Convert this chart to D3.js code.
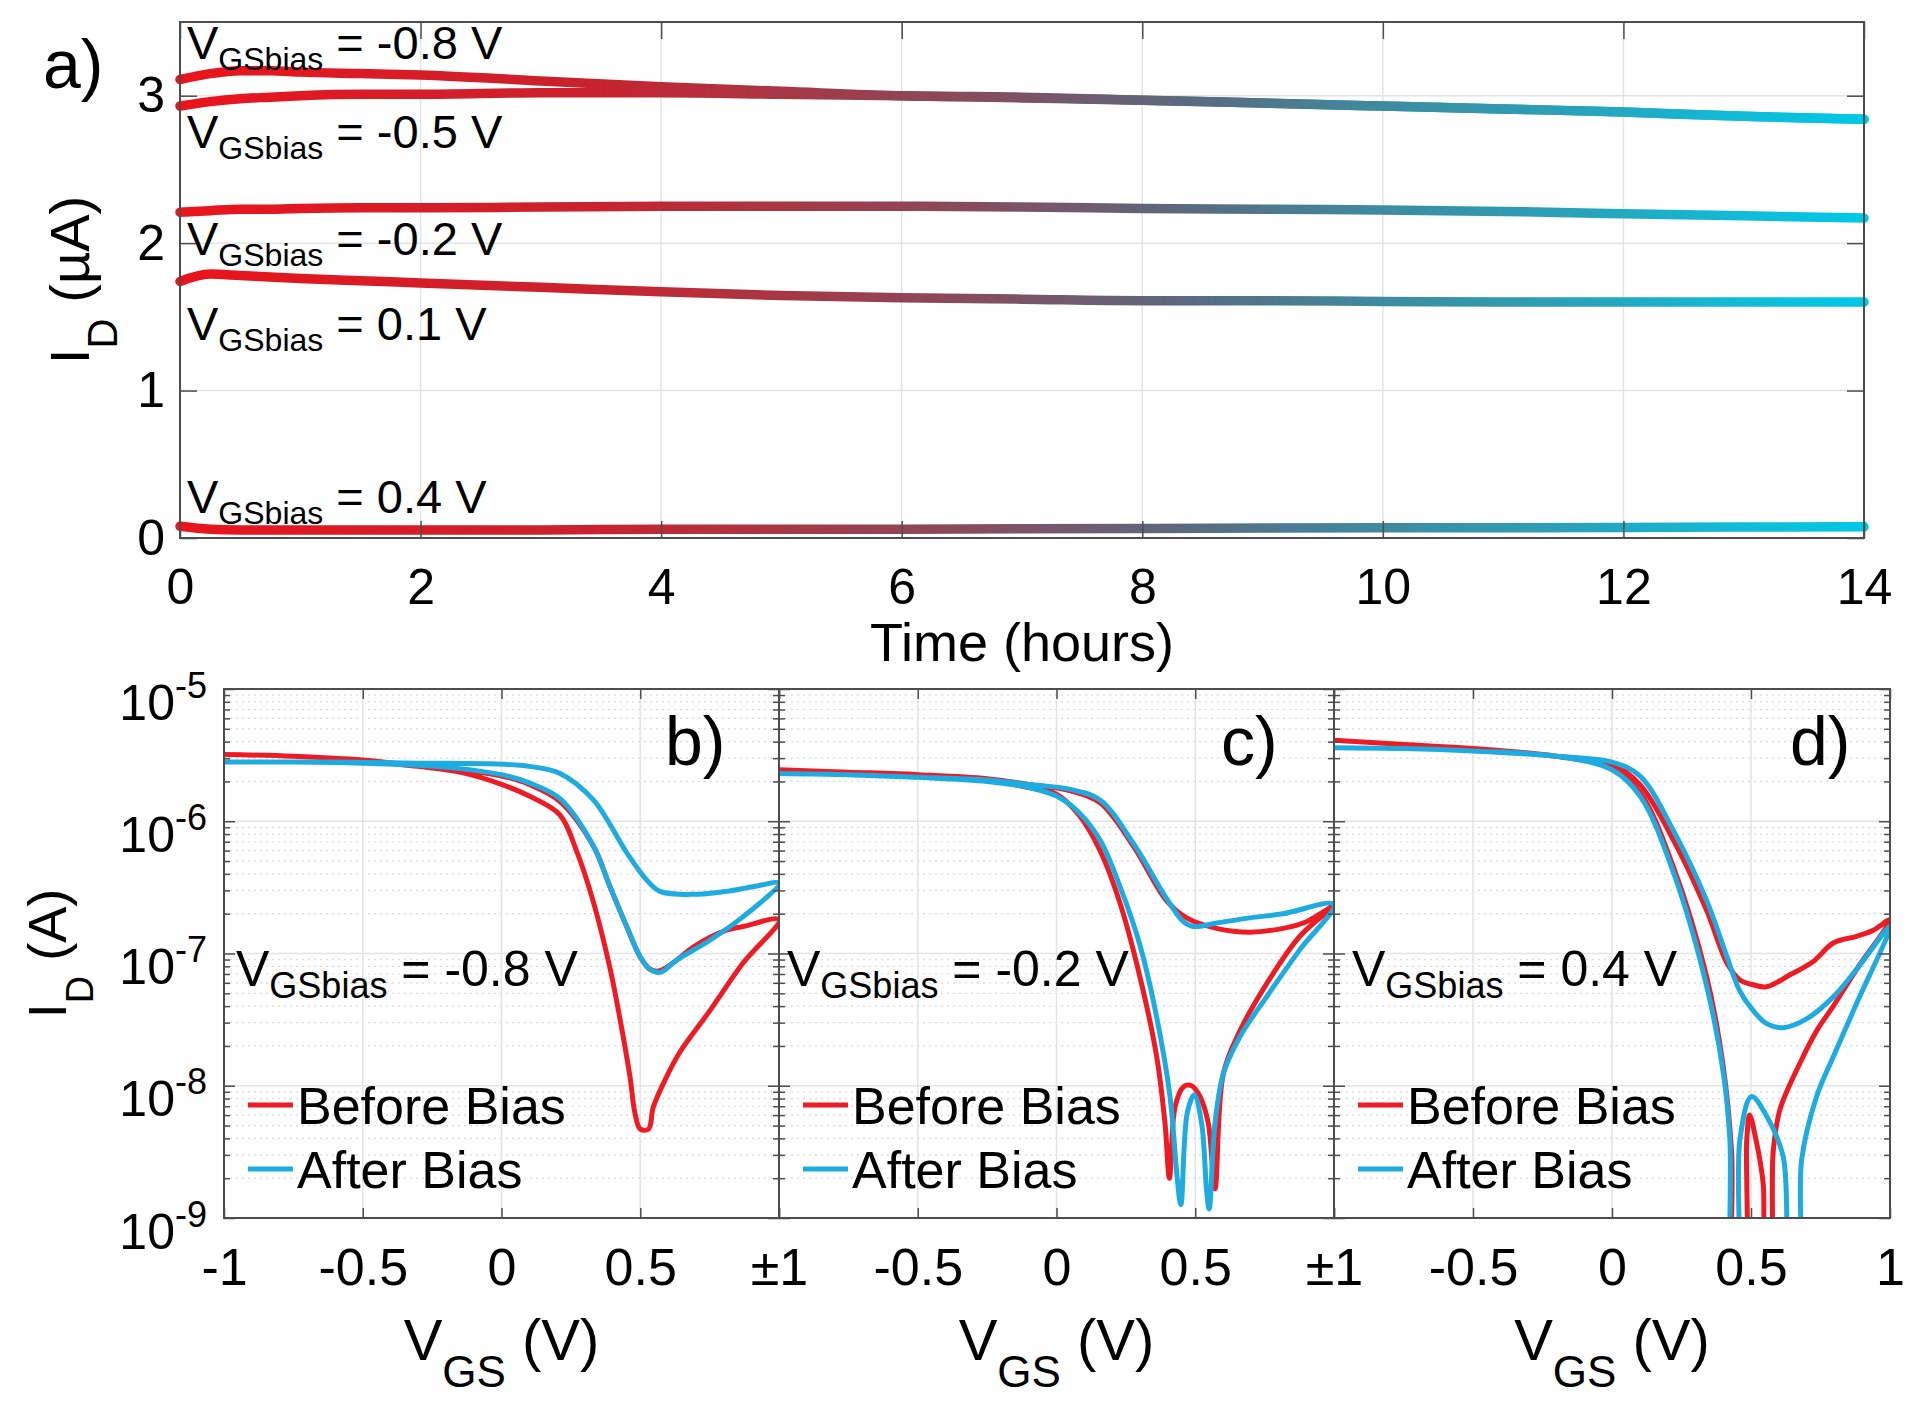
<!DOCTYPE html>
<html><head><meta charset="utf-8">
<script src="https://cdn.jsdelivr.net/npm/d3@7"></script>
<style>
body{margin:0;background:#fff;}
svg text{font-family:"Liberation Sans",Arial,Helvetica,sans-serif;fill:#000;white-space:pre;}
</style></head><body>
<svg id="fig" width="1920" height="1403" xmlns="http://www.w3.org/2000/svg"></svg>
<script>
// ---------------- DATA ----------------
// Panel a: drain current (µA) vs time (hours) for each gate bias
const timeHours = [0, 0.25, 0.5, 0.75, 1, 1.5, 2, 3, 4, 5, 6, 7, 8, 9, 10, 11, 12, 13, 14];
const idBiasM08 = [3.11, 3.15, 3.17, 3.17, 3.16, 3.15, 3.14, 3.10, 3.06, 3.03, 3.00, 2.99, 2.97, 2.95, 2.93, 2.91, 2.89, 2.86, 2.84];
const idBiasM05 = [2.93, 2.96, 2.98, 2.99, 3.00, 3.01, 3.01, 3.02, 3.02, 3.01, 3.00, 2.985, 2.97, 2.95, 2.93, 2.91, 2.89, 2.86, 2.84];
const idBiasM02 = [2.21, 2.22, 2.23, 2.23, 2.235, 2.24, 2.24, 2.245, 2.25, 2.25, 2.25, 2.245, 2.235, 2.23, 2.225, 2.215, 2.20, 2.185, 2.17];
const idBiasP01 = [1.74, 1.79, 1.78, 1.77, 1.76, 1.745, 1.73, 1.70, 1.67, 1.645, 1.63, 1.62, 1.61, 1.61, 1.605, 1.60, 1.60, 1.60, 1.60];
const idBiasP04 = [0.08, 0.06, 0.055, 0.055, 0.055, 0.055, 0.055, 0.055, 0.06, 0.06, 0.06, 0.062, 0.065, 0.068, 0.07, 0.07, 0.072, 0.074, 0.076];
const biasLabelsA = ["-0.8", "-0.5", "-0.2", "0.1", "0.4"];
const xTicksA = [0, 2, 4, 6, 8, 10, 12, 14];
const yTicksA = [0, 1, 2, 3];

// Panels b-d: transfer loops [VGS (V), ID (A)], forward sweep then return sweep
const bBefore = [[-1,3.2e-6],[-0.75,3.1e-6],[-0.5,2.9e-6],[-0.3,2.6e-6],[-0.15,2.35e-6],[0,1.9e-6],[0.1,1.55e-6],[0.21,1.12e-6],[0.27,6.0e-7],[0.33,2.5e-7],[0.39,7.9e-8],[0.427,3.2e-8],[0.463,1.17e-8],[0.481,6.2e-9],[0.5,4.7e-9],[0.53,4.7e-9],[0.547,6.9e-9],[0.595,1.17e-8],[0.643,1.8e-8],[0.751,3.7e-8],[0.871,8.5e-8],[1,1.8e-7],
  [0.871,1.6e-7],[0.811,1.5e-7],[0.691,1.12e-7],[0.631,8.9e-8],[0.571,7.4e-8],[0.535,7.6e-8],[0.499,9.5e-8],[0.451,1.6e-7],[0.391,3.2e-7],[0.331,6.5e-7],[0.211,1.41e-6],[0.1,1.9e-6],[0,2.2e-6],[-0.15,2.45e-6],[-0.3,2.6e-6],[-0.5,2.9e-6],[-0.75,3.1e-6],[-1,3.2e-6]];
const bAfter = [[-1,2.8e-6],[-0.75,2.8e-6],[-0.5,2.75e-6],[-0.3,2.65e-6],[-0.15,2.5e-6],[0,2.25e-6],[0.1,1.95e-6],[0.211,1.48e-6],[0.331,6.5e-7],[0.391,3.2e-7],[0.451,1.6e-7],[0.499,9.5e-8],[0.535,7.6e-8],[0.571,7.2e-8],[0.631,8.9e-8],[0.751,1.26e-7],[0.871,1.9e-7],[1,3.4e-7],
  [0.907,3.2e-7],[0.811,2.95e-7],[0.691,2.8e-7],[0.571,2.95e-7],[0.523,3.6e-7],[0.451,5.8e-7],[0.331,1.45e-6],[0.211,2.3e-6],[0.1,2.6e-6],[0,2.7e-6],[-0.3,2.75e-6],[-0.6,2.8e-6],[-1,2.8e-6]];
const cBefore = [[-1,2.45e-6],[-0.75,2.35e-6],[-0.5,2.25e-6],[-0.25,2.05e-6],[-0.1,1.8e-6],[0,1.6e-6],[0.08,1.12e-6],[0.157,6.0e-7],[0.229,2.4e-7],[0.301,6.6e-8],[0.361,1.66e-8],[0.391,5.2e-9],[0.407,2.0e-9],[0.427,6.9e-9],[0.457,9.8e-9],[0.487,1.0e-8],[0.517,8.3e-9],[0.547,5.2e-9],[0.571,1.66e-9],[0.601,1.23e-8],[0.661,2.6e-8],[0.757,5.9e-8],[0.877,1.35e-7],[1,2.3e-7],
  [0.901,1.74e-7],[0.817,1.55e-7],[0.697,1.45e-7],[0.577,1.55e-7],[0.469,1.86e-7],[0.397,2.5e-7],[0.277,6.5e-7],[0.157,1.38e-6],[0.05,1.7e-6],[-0.1,1.9e-6],[-0.25,2.1e-6],[-0.5,2.25e-6],[-0.75,2.35e-6],[-1,2.45e-6]];
const cAfter = [[-1,2.3e-6],[-0.75,2.25e-6],[-0.5,2.15e-6],[-0.25,2.0e-6],[-0.1,1.8e-6],[0,1.55e-6],[0.08,1.17e-6],[0.157,7.2e-7],[0.229,3.2e-7],[0.301,1.15e-7],[0.361,3.3e-8],[0.409,8.3e-9],[0.435,2.0e-9],[0.448,1.26e-9],[0.471,6.2e-9],[0.496,8.5e-9],[0.523,5.2e-9],[0.541,1.6e-9],[0.55,1.17e-9],[0.571,5.2e-9],[0.601,1.23e-8],[0.661,2.35e-8],[0.757,4.7e-8],[0.877,1.07e-7],[1,2.35e-7],
  [0.817,2.0e-7],[0.697,1.86e-7],[0.577,1.7e-7],[0.493,1.6e-7],[0.457,1.74e-7],[0.397,2.6e-7],[0.277,6.8e-7],[0.157,1.45e-6],[0.05,1.74e-6],[-0.1,1.9e-6],[-0.25,2.05e-6],[-0.5,2.15e-6],[-0.75,2.25e-6],[-1,2.3e-6]];
const dBefore = [[-1,4.1e-6],[-0.75,3.8e-6],[-0.5,3.55e-6],[-0.2,3.1e-6],[0,2.5e-6],[0.1,1.66e-6],[0.221,4.5e-7],[0.341,6.6e-8],[0.4,1.4e-8],[0.43,3.2e-9],[0.445,2.5e-10],[0.47,2.5e-10],[0.485,4.0e-9],[0.495,6.0e-9],[0.518,3.9e-9],[0.544,1.8e-9],[0.553,2.5e-10],[0.566,2.5e-10],[0.58,3.2e-9],[0.604,6.6e-9],[0.676,1.48e-8],[0.736,2.6e-8],[0.796,4.0e-8],[0.88,7.6e-8],[1,1.8e-7],
  [0.94,1.5e-7],[0.88,1.35e-7],[0.796,1.2e-7],[0.724,8.7e-8],[0.64,6.9e-8],[0.556,5.6e-8],[0.508,5.8e-8],[0.46,6.3e-8],[0.413,8.5e-8],[0.341,2.1e-7],[0.221,7.2e-7],[0.1,1.9e-6],[0,2.7e-6],[-0.2,3.1e-6],[-0.5,3.55e-6],[-0.75,3.8e-6],[-1,4.1e-6]];
const dAfter = [[-1,3.6e-6],[-0.75,3.55e-6],[-0.5,3.4e-6],[-0.2,3.1e-6],[0,2.45e-6],[0.101,1.55e-6],[0.221,4.1e-7],[0.341,5.6e-8],[0.401,1.23e-8],[0.424,3.9e-9],[0.436,2.5e-10],[0.45,2.5e-10],[0.46,3.9e-9],[0.502,8.3e-9],[0.556,5.9e-9],[0.616,2.9e-9],[0.646,2.5e-10],[0.67,2.5e-10],[0.682,2.75e-9],[0.736,8.3e-9],[0.796,1.66e-8],[0.88,4.2e-8],[1,1.6e-7],
  [0.88,7.6e-8],[0.796,4.7e-8],[0.7,3.2e-8],[0.616,2.75e-8],[0.556,2.95e-8],[0.508,3.7e-8],[0.46,5.2e-8],[0.413,9.5e-8],[0.341,2.5e-7],[0.221,8.5e-7],[0.1,2.2e-6],[0,2.8e-6],[-0.2,3.1e-6],[-0.5,3.4e-6],[-0.75,3.55e-6],[-1,3.6e-6]];
const xTicksVgs = [-1, -0.5, 0, 0.5, 1];
const xTickLabelsB = ["-1", "-0.5", "0", "0.5", "±1"];
const xTickLabelsC = ["", "-0.5", "0", "0.5", "±1"];
const xTickLabelsD = ["", "-0.5", "0", "0.5", "1"];
const yTicksLog = [1e-9, 1e-8, 1e-7, 1e-6, 1e-5];
const yTickExponents = ["-9", "-8", "-7", "-6", "-5"];
const panelBias = ["-0.8", "-0.2", "0.4"];
const panelTags = ["b)", "c)", "d)"];
const legendNames = ["Before Bias", "After Bias"];

// ---------------- DRAWING ----------------
const svg = d3.select("#fig");
const defs = svg.append("defs");
const AX = "#4d4d4d", GRID = "#e4e4e4";
const RED = "#ee1b24", BLUE = "#1eabe0";

function styleAxis(g, fs) {
  g.select(".domain").remove();
  g.selectAll(".tick line").attr("stroke", AX).attr("stroke-width", 1.5);
  g.selectAll(".tick text").attr("font-size", fs).attr("fill", "#000")
    .style("font-family", '"Liberation Sans", Arial, sans-serif');
}

function biasLabel(parent, x, y, value, fs, subFs, subDy) {
  const t = parent.append("text").attr("x", x).attr("y", y).attr("font-size", fs);
  t.append("tspan").text("V");
  t.append("tspan").attr("font-size", subFs).attr("dy", subDy).text("GSbias");
  t.append("tspan").attr("dy", -subDy).text(" = " + value + " V");
}

// ---- Panel a ----
const A = {l: 180, r: 1864, t: 22, b: 538};
const xA = d3.scaleLinear().domain([0, 14]).range([A.l, A.r]);
const yA = d3.scaleLinear().domain([0, 3.5]).range([A.b, A.t]);
const gA = svg.append("g");

const grad = defs.append("linearGradient").attr("id", "timeGrad")
  .attr("gradientUnits", "userSpaceOnUse")
  .attr("x1", xA(0)).attr("x2", xA(14)).attr("y1", 0).attr("y2", 0);
[[0, "#ea141c"], [0.25, "#c8232f"], [0.45, "#8c4858"], [0.6, "#5a6a80"], [0.71, "#3f8a9f"], [0.82, "#2aa0b8"], [0.93, "#10bcd8"], [1, "#00c8e6"]]
  .forEach(s => grad.append("stop").attr("offset", s[0]).attr("stop-color", s[1]));

gA.selectAll(".gx").data(xTicksA.slice(1, -1)).join("line")
  .attr("x1", d => xA(d)).attr("x2", d => xA(d)).attr("y1", A.t).attr("y2", A.b)
  .attr("stroke", GRID).attr("stroke-width", 1.5);
gA.selectAll(".gy").data(yTicksA.slice(1)).join("line")
  .attr("x1", A.l).attr("x2", A.r).attr("y1", d => yA(d)).attr("y2", d => yA(d))
  .attr("stroke", GRID).attr("stroke-width", 1.5);

const seriesA = [idBiasM08, idBiasM05, idBiasM02, idBiasP01, idBiasP04];
const lineA = d3.line().x((d, i) => xA(timeHours[i])).y(d => yA(d)).curve(d3.curveMonotoneX);
gA.selectAll(".sa").data(seriesA).join("path")
  .attr("d", d => lineA(d)).attr("fill", "none").attr("stroke", "url(#timeGrad)")
  .attr("stroke-width", 9.5).attr("stroke-linecap", "round").attr("stroke-linejoin", "round");

gA.append("g").attr("transform", `translate(0,${A.b})`)
  .call(d3.axisBottom(xA).tickValues(xTicksA).tickSize(-17).tickPadding(30).tickFormat(d3.format("d")))
  .call(g => styleAxis(g, 50));
gA.append("g").attr("transform", `translate(0,${A.t})`)
  .call(d3.axisTop(xA).tickValues(xTicksA).tickSize(-17).tickFormat(""))
  .call(g => styleAxis(g, 50));
gA.append("g").attr("transform", `translate(${A.l},0)`)
  .call(d3.axisLeft(yA).tickValues(yTicksA).tickSize(-17).tickPadding(15).tickFormat(d3.format("d")))
  .call(g => styleAxis(g, 50));
gA.append("g").attr("transform", `translate(${A.r},0)`)
  .call(d3.axisRight(yA).tickValues(yTicksA).tickSize(-17).tickFormat(""))
  .call(g => styleAxis(g, 50));
gA.append("rect").attr("x", A.l).attr("y", A.t).attr("width", A.r - A.l).attr("height", A.b - A.t)
  .attr("fill", "none").attr("stroke", AX).attr("stroke-width", 2);

const labelYA = [59, 148, 255, 340, 513];
biasLabelsA.forEach((v, i) => biasLabel(gA, 187, labelYA[i], v, 47, 32, 11));

gA.append("text").attr("x", 43).attr("y", 88).attr("font-size", 68).text("a)");
gA.append("text").attr("x", (A.l + A.r) / 2).attr("y", 661).attr("font-size", 54)
  .attr("text-anchor", "middle").text("Time (hours)");
{
  const t = gA.append("text").attr("transform", `translate(89,${(A.t + A.b) / 2}) rotate(-90)`)
    .attr("text-anchor", "middle").attr("font-size", 56);
  t.append("tspan").text("I");
  t.append("tspan").attr("font-size", 42).attr("dy", 28).text("D");
  t.append("tspan").attr("dy", -28).text(" (µA)");
}

// ---- Panels b, c, d ----
const P = {t: 689, b: 1218};
const panels = [
  {l: 224, r: 779, before: bBefore, after: bAfter, labels: xTickLabelsB, tagX: 665, biasX: 236},
  {l: 779, r: 1334, before: cBefore, after: cAfter, labels: xTickLabelsC, tagX: 1221, biasX: 787},
  {l: 1334, r: 1890, before: dBefore, after: dAfter, labels: xTickLabelsD, tagX: 1790, biasX: 1352}
];
const minorTicks = [];
for (let e = -9; e < -5; e++) for (let m = 2; m <= 9; m++) minorTicks.push(m * Math.pow(10, e));

panels.forEach((p, k) => {
  const g = svg.append("g");
  const xS = d3.scaleLinear().domain([-1, 1]).range([p.l, p.r]);
  const yS = d3.scaleLog().domain([1e-9, 1e-5]).range([P.b, P.t]);
  const cid = "clip" + k;
  defs.append("clipPath").attr("id", cid).append("rect")
    .attr("x", p.l).attr("y", P.t).attr("width", p.r - p.l).attr("height", P.b - P.t);

  // grid
  g.selectAll(".gmin").data(minorTicks).join("line")
    .attr("x1", p.l).attr("x2", p.r).attr("y1", d => yS(d)).attr("y2", d => yS(d))
    .attr("stroke", "#d9d9d9").attr("stroke-width", 1.2).attr("stroke-dasharray", "2,4");
  g.selectAll(".gy").data(yTicksLog.slice(1, -1)).join("line")
    .attr("x1", p.l).attr("x2", p.r).attr("y1", d => yS(d)).attr("y2", d => yS(d))
    .attr("stroke", GRID).attr("stroke-width", 1.5);
  g.selectAll(".gx").data(xTicksVgs.slice(1, -1)).join("line")
    .attr("x1", d => xS(d)).attr("x2", d => xS(d)).attr("y1", P.t).attr("y2", P.b)
    .attr("stroke", GRID).attr("stroke-width", 1.5);

  // data
  const line = d3.line().x(d => xS(d[0])).y(d => yS(d[1])).curve(d3.curveCatmullRom.alpha(0.5));
  const dg = g.append("g").attr("clip-path", `url(#${cid})`);
  [[p.before, RED], [p.after, BLUE]].forEach(([data, col]) => {
    dg.append("path").attr("d", line(data)).attr("fill", "none").attr("stroke", col)
      .attr("stroke-width", 5).attr("stroke-linejoin", "round").attr("stroke-linecap", "round");
  });

  // axes
  g.append("g").attr("transform", `translate(0,${P.b})`)
    .call(d3.axisBottom(xS).tickValues(xTicksVgs).tickSize(-10).tickPadding(30).tickFormat((d, i) => p.labels[i]))
    .call(a => styleAxis(a, 52));
  g.append("g").attr("transform", `translate(0,${P.t})`)
    .call(d3.axisTop(xS).tickValues(xTicksVgs).tickSize(-10).tickFormat(""))
    .call(a => styleAxis(a, 52));
  [["L", p.l], ["R", p.r]].forEach(([side, xpos]) => {
    const ax = side === "L" ? d3.axisLeft : d3.axisRight;
    g.append("g").attr("transform", `translate(${xpos},0)`)
      .call(ax(yS).tickValues(minorTicks).tickSize(-6).tickFormat(""))
      .call(a => styleAxis(a, 52));
    const maj = g.append("g").attr("transform", `translate(${xpos},0)`)
      .call(ax(yS).tickValues(yTicksLog).tickSize(-11).tickPadding(17).tickFormat(""))
      .call(a => styleAxis(a, 52));
    if (side === "L" && k === 0) {
      maj.selectAll(".tick text").each(function (d, i) {
        const t = d3.select(this).attr("dy", null).attr("y", 30).attr("font-size", 50);
        t.append("tspan").text("10");
        t.append("tspan").attr("font-size", 36).attr("dy", -22).text(yTickExponents[i]);
      });
    }
  });
  g.append("rect").attr("x", p.l).attr("y", P.t).attr("width", p.r - p.l).attr("height", P.b - P.t)
    .attr("fill", "none").attr("stroke", AX).attr("stroke-width", 2);

  // annotations
  g.append("text").attr("x", p.tagX).attr("y", 765).attr("font-size", 68).text(panelTags[k]);
  biasLabel(g, p.biasX, 986, panelBias[k], 50, 36, 12);
  [[RED, 1105], [BLUE, 1169]].forEach(([col, yy], j) => {
    g.append("line").attr("x1", p.l + 24).attr("x2", p.l + 69).attr("y1", yy).attr("y2", yy)
      .attr("stroke", col).attr("stroke-width", 5);
    g.append("text").attr("x", p.l + 73).attr("y", yy + 19).attr("font-size", 52).text(legendNames[j]);
  });
  // x label
  const xl = g.append("text").attr("x", (p.l + p.r) / 2).attr("y", 1360)
    .attr("text-anchor", "middle").attr("font-size", 58);
  xl.append("tspan").text("V");
  xl.append("tspan").attr("font-size", 44).attr("dy", 27).text("GS");
  xl.append("tspan").attr("dy", -27).text(" (V)");
});

{
  const t = svg.append("text").attr("transform", `translate(66,${(P.t + P.b) / 2}) rotate(-90)`)
    .attr("text-anchor", "middle").attr("font-size", 54);
  t.append("tspan").text("I");
  t.append("tspan").attr("font-size", 38).attr("dy", 27).text("D");
  t.append("tspan").attr("dy", -27).text(" (A)");
}
</script>
</body></html>
